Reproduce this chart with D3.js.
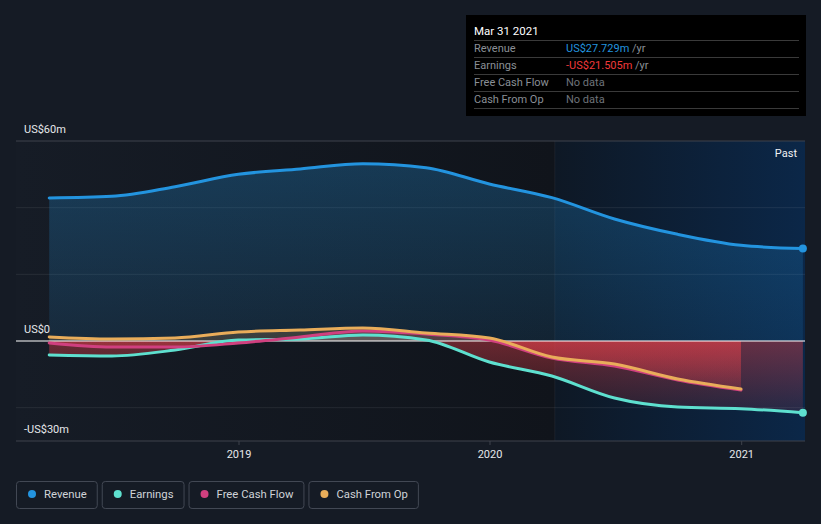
<!DOCTYPE html>
<html><head><meta charset="utf-8">
<script src="https://cdn.jsdelivr.net/npm/d3@7"></script>
<style>
html,body{margin:0;padding:0;background:#151b25;}
svg{display:block;font-family:Roboto,"Noto Sans",sans-serif;}
</style></head>
<body><svg id="c" width="821" height="524"></svg>
<script>
const dates = ["2018-03-31","2018-06-30","2018-09-30","2018-12-31","2019-03-31","2019-06-30","2019-09-30","2019-12-31","2020-03-31","2020-06-30","2020-09-30","2020-12-31","2021-03-31"];
const revenue = [42.9,43.4,46.3,50.0,51.6,53.2,52.0,47.1,43.0,36.6,32.0,28.7,27.729];
const earnings = [-4.2,-4.5,-2.7,0.3,0.6,1.8,0.3,-6.3,-10.5,-17.1,-19.8,-20.3,-21.505];
const freeCashFlow = [-0.6,-1.8,-1.8,-0.6,1.2,3.0,2.1,0.3,-5.1,-7.5,-11.7,-14.7];
const cashFromOp = [1.2,0.6,0.9,2.7,3.3,3.9,2.4,0.9,-4.8,-6.9,-11.4,-14.4];
const yTicks = [60,0,-30];
const yTickLabels = ["US$60m","US$0","-US$30m"];
const xTicks = ["2019-01-01","2020-01-01","2021-01-01"];
const xTickLabels = ["2019","2020","2021"];
const legendNames = ["Revenue","Earnings","Free Cash Flow","Cash From Op"];
const colors = ["#2394df","#5ee0cf","#d0407f","#e9ad5a"];
const tipRows = [["Revenue","US$27.729m"," /yr"],["Earnings","-US$21.505m"," /yr"],["Free Cash Flow","No data",""],["Cash From Op","No data",""]];

const parse = d3.timeParse("%Y-%m-%d");
const svg = d3.select("#c");
const x = d3.scaleTime();
const t19 = parse("2019-01-01"), t20 = parse("2020-01-01");
const pxPerMs = (490-239)/(t20-t19);
x.domain([new Date(+t19 - (239-16)/pxPerMs), new Date(+t19 + (805-239)/pxPerMs)]).range([16,805]);
const y = d3.scaleLinear().domain([-30,60]).range([441,141]);

const defs = svg.append("defs");
const g1 = defs.append("linearGradient").attr("id","plotbg").attr("x1",0).attr("x2",1).attr("y1",0).attr("y2",0);
g1.append("stop").attr("offset",0).attr("stop-color","#161c26");
g1.append("stop").attr("offset",1).attr("stop-color","#10141b");
const g2 = defs.append("linearGradient").attr("id","pastbg").attr("x1",0).attr("x2",1).attr("y1",0).attr("y2",0);
g2.append("stop").attr("offset",0).attr("stop-color","#0e1825");
g2.append("stop").attr("offset",1).attr("stop-color","#0b2748");
const g3 = defs.append("linearGradient").attr("id","revfill").attr("x1",0).attr("x2",0).attr("y1",0).attr("y2",1);
g3.append("stop").attr("offset",0).attr("stop-color","#2394df").attr("stop-opacity",0.28);
g3.append("stop").attr("offset",1).attr("stop-color","#2394df").attr("stop-opacity",0.12);
const g4 = defs.append("linearGradient").attr("id","negfill").attr("x1",0).attr("x2",0).attr("y1",0).attr("y2",1);
g4.append("stop").attr("offset",0).attr("stop-color","#e0404a").attr("stop-opacity",0.45);
g4.append("stop").attr("offset",1).attr("stop-color","#e0404a").attr("stop-opacity",0.12);
defs.append("clipPath").attr("id","above").append("rect").attr("x",0).attr("y",0).attr("width",821).attr("height",y(0));
defs.append("clipPath").attr("id","below").append("rect").attr("x",0).attr("y",y(0)).attr("width",821).attr("height",200);

const pastX = x(parse("2020-03-31")) + 3;
svg.append("rect").attr("x",16).attr("y",141).attr("width",pastX-16).attr("height",300).attr("fill","url(#plotbg)");
svg.append("rect").attr("x",pastX).attr("y",141).attr("width",805-pastX).attr("height",300).attr("fill","url(#pastbg)");
svg.append("line").attr("x1",pastX).attr("x2",pastX).attr("y1",141).attr("y2",441).attr("stroke","#ffffff").attr("stroke-opacity",0.05);

[40,20,-20].forEach(v=>{
  svg.append("line").attr("x1",16).attr("x2",805).attr("y1",y(v)).attr("y2",y(v)).attr("stroke","#ffffff").attr("stroke-opacity",0.08);
});
svg.append("line").attr("x1",16).attr("x2",805).attr("y1",y(60)).attr("y2",y(60)).attr("stroke","#3e434c");
svg.append("line").attr("x1",16).attr("x2",805).attr("y1",y(-30)).attr("y2",y(-30)).attr("stroke","#3e434c");

const series = [revenue, earnings, freeCashFlow, cashFromOp].map(vals=>vals.map((v,j)=>({d:parse(dates[j]),v})));
const curve = d3.curveMonotoneX;
const area = d3.area().x(d=>x(d.d)).y0(y(0)).y1(d=>y(d.v)).curve(curve);
const line = d3.line().x(d=>x(d.d)).y(d=>y(d.v)).curve(curve);

svg.append("path").datum(series[0]).attr("d",area).attr("fill","url(#revfill)");
[1,2,3].forEach(i=>{
  svg.append("path").datum(series[i]).attr("d",area).attr("clip-path","url(#above)").attr("fill",colors[i]).attr("fill-opacity",0.18);
  svg.append("path").datum(series[i]).attr("d",area).attr("clip-path","url(#below)").attr("fill","url(#negfill)");
});

svg.append("line").attr("x1",16).attr("x2",805).attr("y1",y(0)).attr("y2",y(0)).attr("stroke","#ffffff").attr("stroke-width",1.2);

[1,2,3,0].forEach(i=>{
  svg.append("path").datum(series[i]).attr("d",line).attr("fill","none").attr("stroke",colors[i]).attr("stroke-width",3).attr("stroke-linecap","round");
});
[0,1].forEach(i=>{
  const last = series[i][series[i].length-1];
  svg.append("circle").attr("cx",x(last.d)).attr("cy",y(last.v)).attr("r",4).attr("fill",colors[i]);
});

yTicks.forEach((v,i)=>{
  svg.append("text").attr("x",24).attr("y",y(v)-8).attr("fill","#e6e8eb").attr("font-size",11).text(yTickLabels[i]);
});
xTicks.forEach((t,i)=>{
  const xx = x(parse(t));
  svg.append("line").attr("x1",xx).attr("x2",xx).attr("y1",441).attr("y2",445).attr("stroke","#3e434c");
  svg.append("text").attr("x",xx).attr("y",458).attr("text-anchor","middle").attr("fill","#e6e8eb").attr("font-size",11).text(xTickLabels[i]);
});
svg.append("text").attr("x",797).attr("y",157).attr("text-anchor","end").attr("fill","#f0f2f4").attr("font-size",11).text("Past");

const tip = svg.append("g");
tip.append("rect").attr("x",466).attr("y",15).attr("width",340).attr("height",101).attr("fill","#000000");
tip.append("text").attr("x",474).attr("y",35).attr("fill","#ffffff").attr("font-size",11.5).text("Mar 31 2021");
tipRows.forEach((r,i)=>{
  const yy = 40 + i*17;
  tip.append("line").attr("x1",474).attr("x2",799).attr("y1",yy+0.5).attr("y2",yy+0.5).attr("stroke","#3a3a3a");
  tip.append("text").attr("x",474).attr("y",yy+12).attr("fill","#8a8f96").attr("font-size",11).text(r[0]);
  const vc = i===0 ? "#2394df" : (i===1 ? "#f0393a" : "#6e737a");
  const t = tip.append("text").attr("x",566).attr("y",yy+12).attr("font-size",11);
  t.append("tspan").attr("fill",vc).text(r[1]);
  if (r[2]) t.append("tspan").attr("fill","#8a8f96").text(r[2]);
});
tip.append("line").attr("x1",474).attr("x2",799).attr("y1",108.5).attr("y2",108.5).attr("stroke","#3a3a3a");

let lx = 16;
legendNames.forEach((n,i)=>{
  const g = svg.append("g");
  const txt = g.append("text").attr("x",lx+28).attr("y",498).attr("fill","#d0d3d8").attr("font-size",11.3).text(n);
  const w = txt.node().getComputedTextLength() + 28 + 10;
  g.insert("rect","text").attr("x",lx+0.5).attr("y",481.5).attr("width",w).attr("height",27).attr("rx",3).attr("fill","none").attr("stroke","#424854");
  g.append("circle").attr("cx",lx+16).attr("cy",494).attr("r",4).attr("fill",colors[i]);
  lx += w + 5;
});
</script></body></html>
